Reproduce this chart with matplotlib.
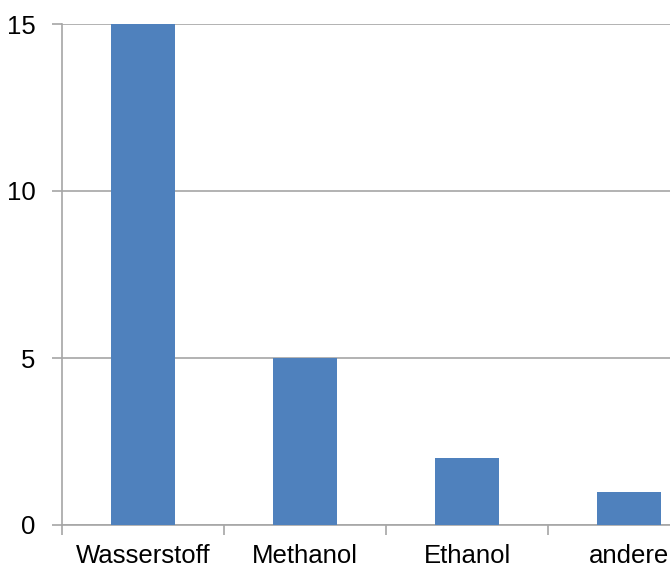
import matplotlib
matplotlib.use('Agg')
import matplotlib.pyplot as plt

# 数据
categories = ['Wasserstoff', 'Methanol', 'Ethanol', 'andere']
values = [15, 5, 2, 1]
y_ticks = [0, 5, 10, 15]

plt.rcParams['font.family'] = ['Liberation Sans', 'DejaVu Sans']

fig = plt.figure(figsize=(6.7, 5.7), dpi=100)
ax = fig.add_axes([62 / 670, 45 / 570, 648 / 670, 501 / 570])

x = range(len(categories))
ax.bar(x, values, width=0.4, color='#4F81BD', zorder=3)

ax.set_xlim(-0.5, len(categories) - 0.5)
ax.set_ylim(0, 15)
ax.set_yticks(y_ticks)
ax.set_yticklabels([str(v) for v in y_ticks])
ax.yaxis.grid(True, color='#A6A6A6', linewidth=1.2, zorder=0)

# 类别刻度在类别之间
ax.set_xticks([i - 0.5 for i in range(len(categories))])
ax.set_xticklabels([])
ax.set_xticks(list(x), minor=True)
ax.set_xticklabels(categories, minor=True)
ax.tick_params(axis='x', which='minor', length=0, pad=14, labelsize=18.5)
ax.tick_params(axis='x', which='major', length=7, color='#A6A6A6', width=1.2)
ax.tick_params(axis='y', length=7, color='#A6A6A6', width=1.2, pad=12, labelsize=18.5)

for side in ['top', 'right']:
    ax.spines[side].set_visible(False)
for side in ['left', 'bottom']:
    ax.spines[side].set_color('#A6A6A6')
    ax.spines[side].set_linewidth(1.2)

fig.savefig('out.png', dpi=100)
